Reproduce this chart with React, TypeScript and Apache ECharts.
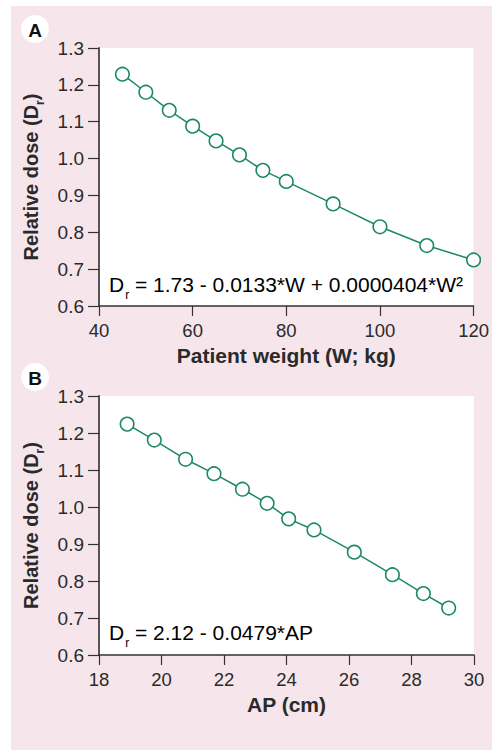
import React, { useEffect, useRef } from "react";
import * as echarts from "echarts";

const weightKg = [45, 50, 55, 60, 65, 70, 75, 80, 90, 100, 110, 120];
const doseA = [1.229, 1.18, 1.131, 1.088, 1.048, 1.01, 0.968, 0.938, 0.877, 0.815, 0.764, 0.725];
const apCm = [18.9, 19.77, 20.77, 21.68, 22.59, 23.38, 24.07, 24.88, 26.17, 27.39, 28.38, 29.19];
const doseB = [1.224, 1.181, 1.129, 1.09, 1.048, 1.01, 0.968, 0.938, 0.878, 0.817, 0.766, 0.727];

const panelLabels = ["A", "B"];
const xAxisNames = ["Patient weight (W; kg)", "AP (cm)"];
const yAxisNameText = "Relative dose (D";
const equationA = " = 1.73 - 0.0133*W + 0.0000404*W²";
const equationB = " = 2.12 - 0.0479*AP";

const FONT = "Liberation Sans, Arial, Helvetica, sans-serif";
const GREEN = "#1b8a5e";
const PINK = "#f6e6ec";
const TEXT = "#2a2a2a";

export default function App() {
  const ref = useRef<HTMLDivElement>(null);
  useEffect(() => {
    if (!ref.current) return;
    const chart = echarts.init(ref.current, null, { renderer: "svg" });

    const yAxisBase = (gridIndex: number) => ({
      type: "value",
      gridIndex,
      min: 0.6,
      max: 1.3,
      interval: 0.1,
      name: `{a|${yAxisNameText}}{s|r}{a|)}`,
      nameLocation: "middle",
      nameGap: 56,
      nameRotate: 90,
      nameTextStyle: {
        rich: {
          a: { fontFamily: FONT, fontSize: 20, fontWeight: "bold", color: TEXT, lineHeight: 22, verticalAlign: "top" },
          s: { fontFamily: FONT, fontSize: 12, fontWeight: "bold", color: TEXT, lineHeight: 12, padding: [13, 0, 0, 0], verticalAlign: "top" },
        },
      },
      axisLine: { show: true, lineStyle: { color: "#555", width: 2 } },
      axisTick: { show: true, length: 11, lineStyle: { color: "#333", width: 1.2 } },
      axisLabel: {
        margin: 15,
        fontFamily: FONT,
        fontSize: 19,
        color: TEXT,
        formatter: (v: number) => v.toFixed(1),
      },
      splitLine: { show: false },
    });

    const xAxisBase = (gridIndex: number, min: number, max: number, interval: number, name: string) => ({
      type: "value",
      gridIndex,
      min,
      max,
      interval,
      name,
      nameLocation: "middle",
      nameGap: 39,
      nameTextStyle: { fontFamily: FONT, fontSize: 21, fontWeight: "bold", color: TEXT },
      axisLine: { show: true, onZero: false, lineStyle: { color: "#333", width: 1.5 } },
      axisTick: { show: true, length: 10, lineStyle: { color: "#333", width: 1.2 } },
      axisLabel: { margin: 15, fontFamily: FONT, fontSize: 18.5, color: TEXT },
      splitLine: { show: false },
    });

    const seriesBase = {
      type: "line",
      symbol: "circle",
      symbolSize: 13.5,
      lineStyle: { color: GREEN, width: 1.5 },
      itemStyle: { color: "#fff", borderColor: GREEN, borderWidth: 1.6 },
      showAllSymbol: true,
    };

    const eqRich = {
      d: { fontFamily: FONT, fontSize: 21, color: TEXT, lineHeight: 24, verticalAlign: "top" },
      s: { fontFamily: FONT, fontSize: 12, color: TEXT, lineHeight: 12, padding: [15, 0, 0, 1], verticalAlign: "top" },
    };

    chart.setOption({
      animation: false,
      backgroundColor: "#fff",
      grid: [
        { left: 99, top: 48, width: 375, height: 258, show: true, backgroundColor: "#fff", borderWidth: 0 },
        { left: 99, top: 396, width: 375, height: 259, show: true, backgroundColor: "#fff", borderWidth: 0 },
      ],
      xAxis: [
        xAxisBase(0, 40, 120, 20, xAxisNames[0]),
        xAxisBase(1, 18, 30, 2, xAxisNames[1]),
      ],
      yAxis: [yAxisBase(0), yAxisBase(1)],
      series: [
        { ...seriesBase, xAxisIndex: 0, yAxisIndex: 0, data: weightKg.map((w, i) => [w, doseA[i]]) },
        { ...seriesBase, xAxisIndex: 1, yAxisIndex: 1, data: apCm.map((a, i) => [a, doseB[i]]) },
      ],
      graphic: [
        { type: "rect", z: -10, silent: true, shape: { x: 11, y: 6, width: 481, height: 744 }, style: { fill: PINK } },
        { type: "circle", shape: { cx: 35, cy: 29, r: 14 }, style: { fill: "#fff" }, z: 10 },
        { type: "text", x: 35, y: 30, z: 11, style: { text: panelLabels[0], fontFamily: FONT, fontSize: 19, fontWeight: "bold", fill: "#111", align: "center", verticalAlign: "middle" } },
        { type: "circle", shape: { cx: 35, cy: 377, r: 14 }, style: { fill: "#fff" }, z: 10 },
        { type: "text", x: 35, y: 378, z: 11, style: { text: panelLabels[1], fontFamily: FONT, fontSize: 19, fontWeight: "bold", fill: "#111", align: "center", verticalAlign: "middle" } },
        { type: "text", x: 109, y: 274, z: 11, style: { text: `{d|D}{s|r}{d|${equationA}}`, rich: eqRich } },
        { type: "text", x: 109, y: 622, z: 11, style: { text: `{d|D}{s|r}{d|${equationB}}`, rich: eqRich } },
      ],
    });
    return () => chart.dispose();
  }, []);
  return <div ref={ref} style={{ position: "fixed", left: 0, top: 0, width: 492, height: 750 }} />;
}
